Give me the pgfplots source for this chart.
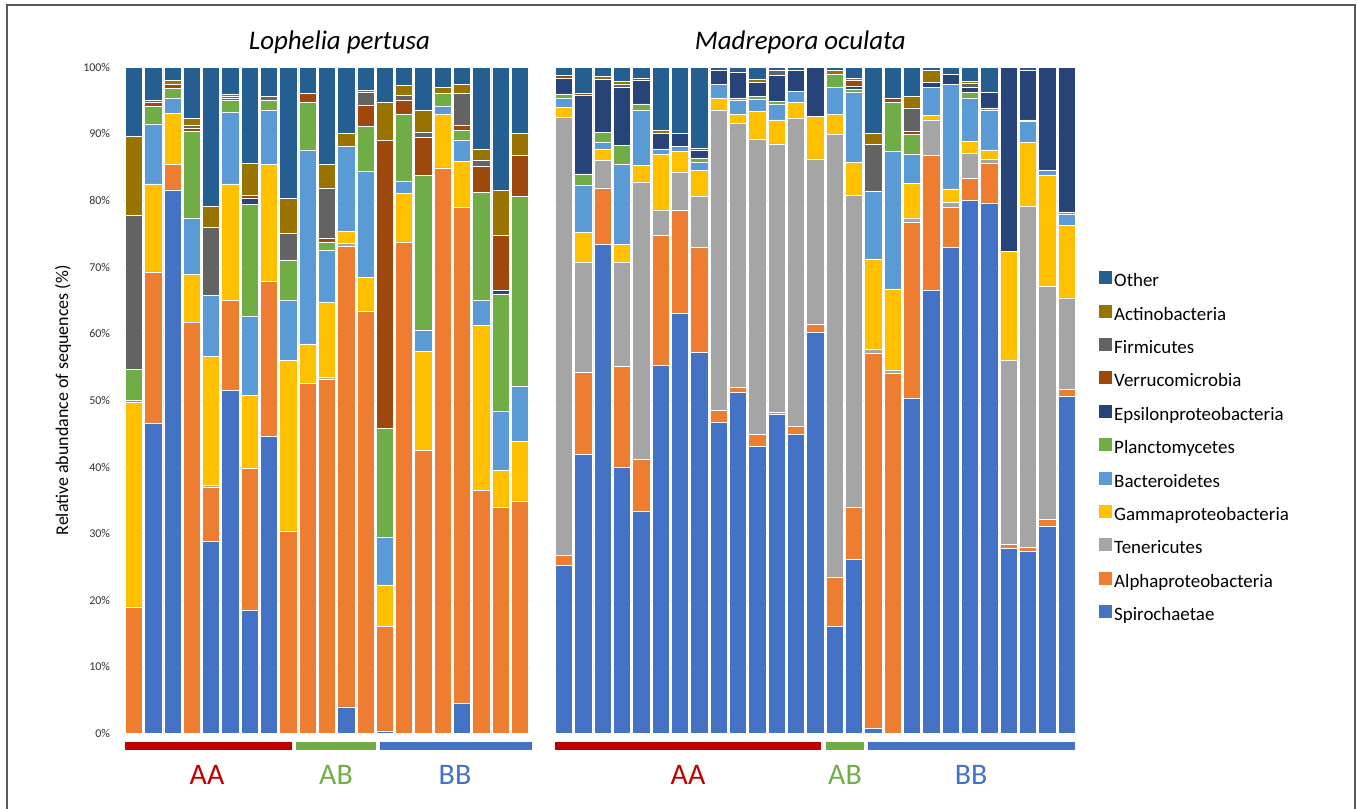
\documentclass[border=0pt]{standalone}
\usepackage{pgfplots}
\pgfplotsset{compat=1.18}
\usepackage{pgfplotstable}
\usepackage{fontspec}
\setmainfont{Carlito}
\definecolor{cSp}{HTML}{4472C4}
\definecolor{cAl}{HTML}{ED7D31}
\definecolor{cTe}{HTML}{A5A5A5}
\definecolor{cGa}{HTML}{FFC000}
\definecolor{cBa}{HTML}{5B9BD5}
\definecolor{cPl}{HTML}{70AD47}
\definecolor{cEp}{HTML}{264478}
\definecolor{cVe}{HTML}{9E480E}
\definecolor{cFi}{HTML}{636363}
\definecolor{cAc}{HTML}{997300}
\definecolor{cOt}{HTML}{255E91}
\definecolor{gRed}{HTML}{C00000}
\definecolor{gGreen}{HTML}{70AD47}
\definecolor{gBlue}{HTML}{4472C4}

% Lophelia pertusa: 21 samples
\pgfplotstableread{
x sp al te ga ba pl ep ve fi ac ot
0 0 19 0 30.7 0.3 4.6 0 0 23.2 11.8 10.4
1 46.6 22.7 0 13.2 9.0 2.6 0 0.7 0.3 0 4.9
2 81.6 3.8 0 7.7 2.3 1.4 0 0.6 0 0.6 2.0
3 0 61.7 0 7.2 8.5 13.0 0 0.4 0.5 1.0 7.7
4 28.8 8.1 0.4 19.3 9.2 0 0 0 10.2 3.2 20.8
5 51.5 13.5 0 17.5 10.8 1.8 0 0.3 0.3 0.3 4.0
6 18.5 21.3 0 11.0 11.8 16.8 1.0 0.4 0 4.8 14.4
7 44.6 23.3 0 17.5 8.2 1.5 0 0 0.5 0 4.4
8 0 30.4 0 25.6 9.1 6.0 0 0 4.0 5.2 19.7
9 0 52.6 0 5.9 29.1 7.2 0 1.3 0 0 3.9
10 0 53.1 0.3 11.4 7.8 1.2 0 0.6 7.4 3.6 14.6
11 4.0 69.1 0.5 1.8 12.7 0 0 0 0 2.0 9.9
12 0 63.4 0 5.1 15.9 6.7 0 3.2 1.9 0.4 3.4
13 0.4 15.7 0 6.2 7.2 16.3 0 43.2 0 5.8 5.2
14 0 73.8 0 7.3 1.8 10.1 0 2.1 0.7 1.5 2.7
15 0 42.5 0 14.9 3.1 23.3 0 5.7 0.8 3.3 6.4
16 0 84.9 0 8.1 1.1 2.0 0 0 0 0.9 3.0
17 4.5 74.5 0 6.9 3.2 1.4 0 0.8 4.8 1.3 2.6
18 0 36.5 0 24.75 3.75 16.25 0 3.85 1.0 1.65 12.25
19 0 33.9 0 5.6 8.9 17.6 0.5 8.25 0 6.75 18.5
20 0 34.9 0 9.0 8.2 28.5 0 6.15 0 3.35 9.9
}\lophelia

% Madrepora oculata: 27 samples
\pgfplotstableread{
x sp al te ga ba pl ep ve fi ac ot
0 25.25 1.5 65.75 1.5 1.4 0.6 2.4 0.35 0 0 1.25
1 41.9 12.35 16.5 4.45 7.05 1.75 11.75 0.35 0 0 3.9
2 73.4 8.45 4.15 1.75 1.0 1.5 8.0 0 0 0.35 1.4
3 40.0 15.1 15.65 2.65 12.0 2.85 8.75 0 0.5 0.4 2.1
4 33.35 7.75 41.7 2.5 8.3 0.9 3.5 0.4 0 0 1.6
5 55.25 19.5 3.85 8.4 0.75 0 2.35 0 0 0.5 9.4
6 63.1 15.5 5.65 3.15 0.7 0 2.0 0 0 0 9.9
7 57.25 15.75 7.6 3.9 1.25 0.65 1.1 0 0.4 0 12.1
8 46.75 1.75 45.1 1.8 2.0 0 2.1 0 0 0 0.5
9 51.25 0.65 39.7 1.3 2.2 0.3 3.9 0 0 0 0.7
10 43.1 1.8 44.35 4.15 1.85 0.35 2.15 0 0 0.5 1.75
11 47.9 0.35 40.25 3.6 2.3 0.5 3.85 0 0.75 0 0.5
12 44.9 1.2 46.3 2.35 1.65 0 3.1 0 0 0 0.5
13 60.25 1.25 24.75 6.35 0 0 7.4 0 0 0 0
14 16.1 7.4 66.4 3.0 4.1 2.0 0 0 0 0.5 0.5
15 26.1 7.9 46.75 5.0 10.45 0.55 0.4 0.85 0 0.4 1.6
16 0.75 56.35 0.65 13.5 10.15 0 0 0 7.1 1.6 9.9
17 0 54.1 0.4 12.25 20.65 7.35 0 0.65 0 0 4.6
18 50.3 26.45 0.65 5.2 4.4 2.9 0 0.5 3.5 1.7 4.4
19 66.5 20.25 5.35 0.65 4.25 0 0.75 0 0 1.85 0.4
20 73.0 6.0 0.75 2.0 15.65 0 1.5 0 0 0 1.1
21 80.0 3.4 3.7 1.8 6.5 0.85 0.75 0 0.6 0.3 2.1
22 79.6 6.0 0.65 1.35 6.0 0.3 2.35 0 0 0 3.75
23 27.75 0.6 27.65 16.4 0 0 27.6 0 0 0 0
24 27.4 0.5 51.2 9.65 3.15 0.2 7.5 0 0 0 0.4
25 31.1 1.0 35.0 16.65 0.85 0 15.4 0 0 0 0
26 50.6 1.0 13.8 10.9 1.7 0.3 21.7 0 0 0 0
}\madrepora

\pgfplotsset{
  coral/.style={
    scale only axis, height=666.2bp,
    ybar stacked, bar width=17.3bp,
    ymin=0, ymax=100, xtick=\empty,
    ytick={0,10,...,100},
    axis line style={draw=none}, major tick length=0pt,
    ymajorgrids, grid style={black!12, line width=0.6bp},
    every axis plot/.append style={draw=white, line width=0.5bp},
    every axis plot post/.append style={legend image code/.code={\fill[##1,draw=none] (0bp,-1bp) rectangle (13bp,12bp);}},
    title style={font=\fontsize{27}{27}\selectfont\itshape, at={(0.5,1)}, anchor=center, yshift=19bp},
  },
}

\begin{document}
\begin{tikzpicture}[x=1bp,y=1bp]
\useasboundingbox (0,0) rectangle (1357,808);
\draw[black!65, line width=1.5bp] (7,-3) -- (7,803) -- (1355,803) -- (1355,-3);

\begin{axis}[coral, at={(124.2bp,74.5bp)}, anchor=south west, width=405.3bp,
  xmin=-0.5, xmax=20.5,
  title={Lophelia pertusa}, title style={xshift=12.6bp},
  yticklabels={0\%,10\%,20\%,30\%,40\%,50\%,60\%,70\%,80\%,90\%,100\%},
  yticklabel style={font=\fontsize{12}{12}\selectfont, color=black!80, inner sep=0pt, xshift=-14bp},
  ylabel={Relative abundance of sequences (\%)},
  every axis y label/.style={at={(axis description cs:-0.151,0.5)}, rotate=90, anchor=center, font=\fontsize{18}{18}\selectfont},
]
\addplot[fill=cSp] table[x=x,y=sp]{\lophelia};
\addplot[fill=cAl] table[x=x,y=al]{\lophelia};
\addplot[fill=cTe] table[x=x,y=te]{\lophelia};
\addplot[fill=cGa] table[x=x,y=ga]{\lophelia};
\addplot[fill=cBa] table[x=x,y=ba]{\lophelia};
\addplot[fill=cPl] table[x=x,y=pl]{\lophelia};
\addplot[fill=cEp] table[x=x,y=ep]{\lophelia};
\addplot[fill=cVe] table[x=x,y=ve]{\lophelia};
\addplot[fill=cFi] table[x=x,y=fi]{\lophelia};
\addplot[fill=cAc] table[x=x,y=ac]{\lophelia};
\addplot[fill=cOt] table[x=x,y=ot]{\lophelia};
\end{axis}

\begin{axis}[coral, at={(554.3bp,74.5bp)}, anchor=south west, width=522bp,
  xmin=-0.5, xmax=26.5,
  title={Madrepora oculata}, title style={xshift=-15bp},
  yticklabels={},
  reverse legend,
  legend style={draw=none, fill=none, inner sep=0pt, at={(axis description cs:1.0435,0.6942)}, anchor=north west,
    font=\fontsize{19}{19}\selectfont, row sep=11.9bp, column sep=2bp,
    nodes={inner sep=0pt, text height=13bp, text depth=6bp}},
  legend cell align=left,
]
\addplot[fill=cSp] table[x=x,y=sp]{\madrepora};
\addplot[fill=cAl] table[x=x,y=al]{\madrepora};
\addplot[fill=cTe] table[x=x,y=te]{\madrepora};
\addplot[fill=cGa] table[x=x,y=ga]{\madrepora};
\addplot[fill=cBa] table[x=x,y=ba]{\madrepora};
\addplot[fill=cPl] table[x=x,y=pl]{\madrepora};
\addplot[fill=cEp] table[x=x,y=ep]{\madrepora};
\addplot[fill=cVe] table[x=x,y=ve]{\madrepora};
\addplot[fill=cFi] table[x=x,y=fi]{\madrepora};
\addplot[fill=cAc] table[x=x,y=ac]{\madrepora};
\addplot[fill=cOt] table[x=x,y=ot]{\madrepora};
\legend{Spirochaetae,Alphaproteobacteria,Tenericutes,Gammaproteobacteria,Bacteroidetes,Planctomycetes,Epsilonproteobacteria,Verrucomicrobia,Firmicutes,Actinobacteria,Other}
\end{axis}

% group bars
\begin{scope}[line width=8bp]
\draw[gRed]   (125,62.5) -- (292,62.5);
\draw[gGreen] (296,62.5) -- (376,62.5);
\draw[gBlue]  (380,62.5) -- (532,62.5);
\draw[gRed]   (555,62.5) -- (821,62.5);
\draw[gGreen] (826,62.5) -- (864,62.5);
\draw[gBlue]  (868,62.5) -- (1075,62.5);
\end{scope}
\begin{scope}[font=\fontsize{30}{30}\selectfont]
\node[gRed]   at (207,33) {AA};
\node[gGreen] at (336,33) {AB};
\node[gBlue]  at (455,33) {BB};
\node[gRed]   at (688,33) {AA};
\node[gGreen] at (845,33) {AB};
\node[gBlue]  at (971,33) {BB};
\end{scope}
\end{tikzpicture}
\end{document}
